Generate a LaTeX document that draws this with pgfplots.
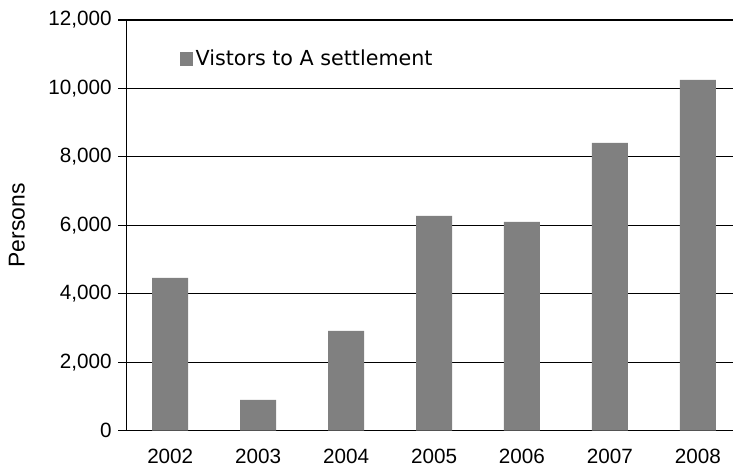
\documentclass[border=0pt]{standalone}
\usepackage{fontspec}
\setmainfont{Liberation Sans}
\newfontfamily\legendfont{DejaVu Sans}
\usepackage{pgfplots}
\pgfplotsset{compat=1.18}

\definecolor{barcol}{HTML}{808080}

\begin{document}
\begin{tikzpicture}
\begin{axis}[
  scale only axis,
  width=455pt, height=308pt,
  xmin=-0.5, xmax=6.4,
  ymin=0, ymax=12000,
  axis x line*=bottom,
  axis y line*=left,
  axis line style={black, line width=0.8pt, -},
  xtick={0,1,2,3,4,5,6},
  xticklabels={2002,2003,2004,2005,2006,2007,2008},
  major x tick style={draw=none},
  ytick={0,2000,4000,6000,8000,10000,12000},
  tick align=outside,
  major tick length=6pt,
  ytick style={black, line width=0.8pt},
  ymajorgrids,
  grid style={black, line width=0.8pt},
  scaled y ticks=false,
  /pgf/number format/.cd, 1000 sep={,}, assume math mode=true,
  /pgfplots/.cd,
  tick label style={font=\fontsize{15.5}{18}\selectfont},
  xticklabel style={yshift=-4pt},
  yticklabel style={xshift=-1.5pt},
  ylabel={Persons},
  ylabel shift=10.75pt,
  ylabel style={font=\fontsize{17.2}{20}\selectfont},
  clip=false,
  legend style={at={(0.088,0.905)}, anchor=west, draw=none, fill=none,
    inner sep=0pt, font=\legendfont\fontsize{15.5}{18}\selectfont},
  legend image code/.code={\fill[barcol] (0pt,-4.9pt) rectangle (9.75pt,4.9pt);},
]
\addplot[ybar, bar width=27pt, fill=barcol, draw=none] coordinates {
  (0,4465) (1,898) (2,2915) (3,6278) (4,6102) (5,8412) (6,10254)
};
\addlegendentry{Vistors to A settlement}
\end{axis}
\pgfresetboundingbox
\path[use as bounding box] ([shift={(-94.7pt,-28pt)}]current axis.south west) rectangle ([shift={(0pt,15pt)}]current axis.north east);
\end{tikzpicture}
\end{document}
